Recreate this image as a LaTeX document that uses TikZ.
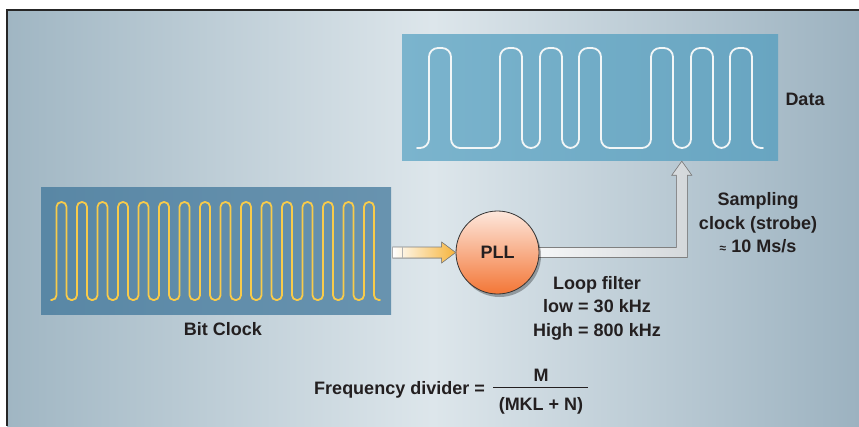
\documentclass[tikz,border=0pt]{standalone}
\usepackage{fontspec}
\setmainfont{Liberation Sans}
\usetikzlibrary{shadows,calc}
\definecolor{bgL}{HTML}{A0B6C3}
\definecolor{bgM}{HTML}{DDE6EB}
\definecolor{bgR}{HTML}{9CB2C0}
\definecolor{dataL}{HTML}{7BB4CD}
\definecolor{dataR}{HTML}{68A5C1}
\definecolor{clkL}{HTML}{5987A5}
\definecolor{clkR}{HTML}{6893AF}
\definecolor{clkwave}{HTML}{F8CB4A}
\definecolor{datawave}{HTML}{F2F6F7}
\definecolor{txt}{HTML}{231F20}
\definecolor{pllT}{HTML}{FDE7DC}
\definecolor{pllB}{HTML}{F37636}
\definecolor{arrO}{HTML}{F6B43C}
\definecolor{arrG}{HTML}{D3D7DA}
\begin{document}
\begin{tikzpicture}[x=1pt,y=-1pt,
  lbl/.style={text=txt, font=\fontsize{18}{23.4}\selectfont\bfseries, align=center, inner sep=0pt},
  panel/.style={draw=none, inner sep=0pt, rectangle},
  wavepath/.style={line width=1.8pt, line cap=round},
  blockarrow/.style={draw=black!50, line width=0.6pt, line join=miter}]
\useasboundingbox (0,0) rectangle (859,426);
% background and frame
\fill[white] (0,0) rectangle (859,426);
\shade[left color=bgL, right color=bgR, middle color=bgM] (7,10) rectangle (859,426);
\draw[line width=1.5pt, black!85] (7,426) -- (7,10) -- (859,10);
% panels
\node[panel, left color=dataL, right color=dataR, minimum width=376, minimum height=126] (data) at (590,97) {};
\node[panel, left color=clkL, right color=clkR, minimum width=350, minimum height=127] (clk) at (216,250.5) {};
% data waveform
\draw[wavepath, datawave, rounded corners=9pt] (417,148) -- (429,148) -- (429,48) -- (451,48) -- (451,148) -- (500,148) -- (500,48) -- (522,48) -- (522,148) -- (540,148) -- (540,48) -- (562,48) -- (562,148) -- (579,148) -- (579,48) -- (601,48) -- (601,148) -- (651,148) -- (651,48) -- (673,48) -- (673,148) -- (691,148) -- (691,48) -- (713,48) -- (713,148) -- (730,148) -- (730,48) -- (752,48) -- (752,148) -- (763,148);
% bit clock waveform
\draw[wavepath, clkwave, rounded corners=4.8pt] (51,300) foreach \k in {0,...,15}{ -- ({56.5+20.5*\k},300) -- ({56.5+20.5*\k},202) -- ({66.5+20.5*\k},202) -- ({66.5+20.5*\k},300)} -- (380,300);
% PLL placeholder coordinates
\coordinate (pllc) at (497.5,252.5);
\coordinate (tip) at ($(data.south west)+(280,1)$);
\coordinate (bend) at (tip|-pllc);
% output arrow (drawn before the circle)
\filldraw[blockarrow, left color=white, right color=arrG]
  ($(pllc)+(0,-5)$) -- ($(bend)+(-5.5,-5)$) -- ($(tip)+(-5.5,14)$) -- ($(tip)+(-10,14)$) -- (tip)
  -- ($(tip)+(10,14)$) -- ($(tip)+(5.5,14)$) -- ($(bend)+(5.5,5)$) -- ($(pllc)+(0,5)$) -- cycle;
% PLL
\node[circle, minimum size=83, inner sep=0pt, draw=black!80, line width=0.8pt,
      top color=pllT, bottom color=pllB,
      drop shadow={shadow xshift=2pt, shadow yshift=-3pt, opacity=0.3, fill=black},
      lbl] (pll) at (pllc) {PLL};
% input arrow
\coordinate (intip) at (pll.west);
\filldraw[blockarrow, left color=white, right color=arrO]
  ($(intip)+(-63,-5.5)$) -- ($(intip)+(-14,-5.5)$) -- ($(intip)+(-14,-10.5)$) -- (intip)
  -- ($(intip)+(-14,10.5)$) -- ($(intip)+(-14,5.5)$) -- ($(intip)+(-63,5.5)$) -- cycle;
\draw[black!30, line width=0.4pt] ($(intip)+(-53,-5.5)$) -- ($(intip)+(-53,5.5)$);
% labels
\node[lbl, anchor=base] (datalbl) at (805,105) {Data};
\node[lbl, anchor=base] (clklbl) at (223,335.7) {Bit Clock};
\node[lbl] (loop) at (597,308) {Loop filter\\low = 30 kHz\\High = 800 kHz};
\node[lbl] (samp) at (758,223) {Sampling\\clock (strobe)\\{\fontsize{12}{14}\selectfont ≈} 10 Ms/s};
\node[lbl, anchor=base east] (fd) at (485,394) {Frequency divider =};
\node[lbl, anchor=base] (num) at (541,381) {M};
\node[lbl, anchor=base] (den) at (541,410.5) {(MKL + N)};
\coordinate (fracL) at (493,387.7);
\coordinate (fracR) at (588,387.7);
\draw[txt, line width=1.2pt] (fracL) -- (fracR);
\end{tikzpicture}
\end{document}
